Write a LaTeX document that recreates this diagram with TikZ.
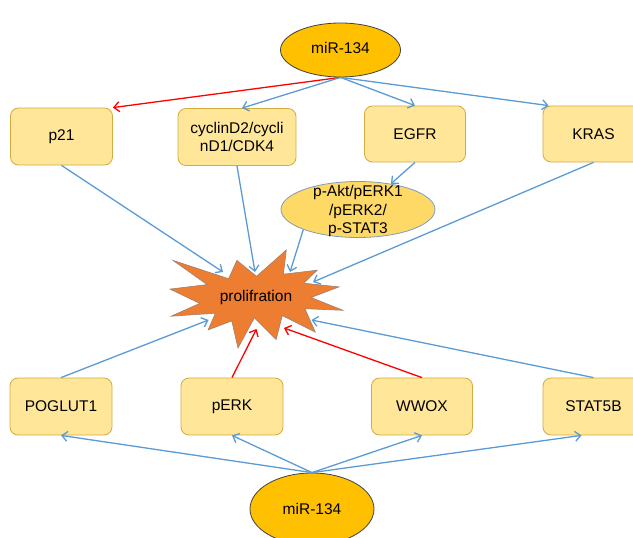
\documentclass[tikz,border=0pt]{standalone}
\usepackage{fontspec}
\setmainfont{Liberation Sans}
\usetikzlibrary{arrows.meta,shapes.geometric,calc}
\definecolor{boxfill}{HTML}{FFE699}
\definecolor{boxdraw}{HTML}{D4AB3C}
\definecolor{mirfill}{HTML}{FFC000}
\definecolor{mirdraw}{HTML}{404040}
\definecolor{paktfill}{HTML}{FFD966}
\definecolor{paktdraw}{HTML}{7F9CC0}
\definecolor{starfill}{HTML}{ED7D31}
\definecolor{stardraw}{HTML}{A08070}
\definecolor{arrblue}{HTML}{5B9BD5}
\definecolor{arrred}{HTML}{FF0000}
\tikzset{
  every node/.style={font=\fontsize{15.5}{18.5}\selectfont, text=black},
  genebox/.style={draw=boxdraw, fill=boxfill, line width=0.8pt, rounded corners=8pt,
    minimum width=102pt, minimum height=57pt, inner sep=0pt, align=center},
  mirnode/.style={ellipse, draw=mirdraw, fill=mirfill, line width=0.8pt,
    minimum width=120pt, minimum height=54pt, inner sep=0pt},
  bluearr/.style={draw=arrblue, line width=1.3pt, -{Straight Barb[length=5.5pt,width=10pt]}},
  redarr/.style={draw=arrred, line width=1.3pt, -{Straight Barb[length=5.5pt,width=10pt]}},
}
\begin{document}
\begin{tikzpicture}[x=1pt,y=-1pt]
\useasboundingbox (0,0) rectangle (633,538);
\clip (0,0) rectangle (633,538);
% nodes
\node[mirnode] (m1) at (340.5,50) {\raisebox{4pt}{miR-134}};
\node[genebox] (p21) at (61.5,136.5) {p21};
\node[genebox, minimum width=118pt] (cyc) at (237,137) {cyclinD2/cycli\\nD1/CDK4};
\node[genebox, minimum width=101pt, minimum height=56pt] (egfr) at (415,134) {EGFR};
\node[genebox, minimum width=101pt, minimum height=56pt] (kras) at (593.5,134) {KRAS};
\node[ellipse, draw=paktdraw, fill=paktfill, line width=0.8pt, minimum width=154pt,
  minimum height=56pt, inner sep=0pt,
  label={[align=center, inner sep=0pt, yshift=-1.5pt]center:p-Akt/pERK1\\/pERK2/\\p-STAT3}] (pakt) at (358,209.5) {};
% star (explosion)
\draw[fill=starfill, draw=stardraw, line width=0.6pt]
  (256.5,276.3) -- (286.3,250) -- (283.4,274.2) -- (317.2,270.2) -- (303.8,283.2)
  -- (339.0,286.9) -- (311.0,297.5) -- (343,310.3) -- (304.9,308.7) -- (315.3,332.1)
  -- (282.3,315.6) -- (276.1,339.5) -- (254.4,317.8) -- (238.0,348) -- (231.8,320.9)
  -- (208.1,329.9) -- (215.4,313.2) -- (171.1,316.2) -- (199.8,303.4) -- (170,289.1)
  -- (207.1,284.6) -- (173.0,260.4) -- (228.6,278.7) -- (236.9,260.4) -- cycle;
\node (star) at (256,297) {prolifration};
\coordinate (t1) at (223,272);
\coordinate (t2) at (255,272);
\coordinate (t3) at (290,272);
\coordinate (t4) at (313,282);
\coordinate (b1) at (208.5,320);
\coordinate (b2) at (256.5,329);
\coordinate (b3) at (284,328);
\coordinate (b4) at (311.5,320);
\node[genebox] (pog) at (61,406.5) {POGLUT1};
\node[genebox] (perk) at (232,406.5) {pERK};
\node[genebox, minimum width=101pt] (wwox) at (422,406.5) {WWOX};
\node[genebox, minimum width=101pt] (stat) at (593.5,406.5) {STAT5B};
\node[mirnode, minimum width=124pt, minimum height=72pt] (m2) at (312,509) {miR-134};
% top connectors
\draw[redarr] (m1.south) -- (p21.north east);
\draw[bluearr] (m1.south) -- ($(cyc.north)+(5,0)$);
\draw[bluearr] (m1.south) -- (egfr.north);
\draw[bluearr] (m1.south) -- ($(kras.north west)+(6,0)$);
\draw[bluearr] (egfr.south) -- (pakt.38);
\draw[bluearr] (p21.south) -- (t1);
\draw[bluearr] (cyc.south) -- (t2);
\draw[bluearr] (pakt.south west) -- (t3);
\draw[bluearr] (kras.south) -- (t4);
% bottom connectors
\draw[bluearr] (pog.north) -- (b1);
\draw[redarr] (perk.north) -- (b2);
\draw[redarr] (wwox.north) -- (b3);
\draw[bluearr] (stat.north) -- (b4);
\draw[bluearr] (m2.north) -- (pog.south);
\draw[bluearr] (m2.north) -- (perk.south);
\draw[bluearr] (m2.north) -- (wwox.south);
\draw[bluearr] (m2.north) -- ($(stat.south)+(-12,0)$);
\end{tikzpicture}
\end{document}
